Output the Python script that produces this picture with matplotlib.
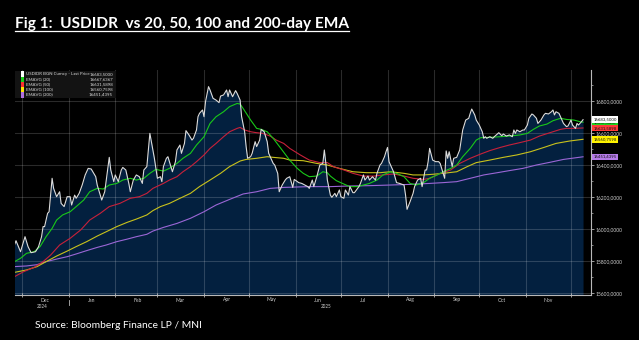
import matplotlib
matplotlib.use("Agg")
import matplotlib.pyplot as plt
import matplotlib.dates as mdates
import matplotlib.transforms as mtransforms
from matplotlib.lines import Line2D
from matplotlib.patches import Rectangle
from matplotlib.ticker import MultipleLocator, FuncFormatter
import pandas as pd

plt.rcParams['font.family'] = ['Lato', 'DejaVu Sans']

# ---------------- data ----------------
title = "Fig 1:  USDIDR  vs 20, 50, 100 and 200-day EMA"
source = "Source: Bloomberg Finance LP / MNI"
series_labels = ["USDIDR BGN Curncy - Last Price", "EMAVG (20)", "EMAVG (50)",
                 "EMAVG (100)", "EMAVG (200)"]
month_labels = ["Dec", "Jan", "Feb", "Mar", "Apr", "May", "Jun", "Jul", "Aug", "Sep", "Oct", "Nov"]
year_labels = ["2024", "2025"]

price_dates = [
    "2024-11-26", "2024-11-27", "2024-11-30", "2024-12-03", "2024-12-05", "2024-12-07", "2024-12-10",
    "2024-12-12", "2024-12-14", "2024-12-15", "2024-12-16", "2024-12-18", "2024-12-19", "2024-12-21",
    "2024-12-22", "2024-12-24", "2024-12-26", "2024-12-27", "2024-12-29", "2024-12-31",
    "2025-01-02", "2025-01-03", "2025-01-05", "2025-01-06", "2025-01-08", "2025-01-10", "2025-01-12",
    "2025-01-14", "2025-01-16", "2025-01-19", "2025-01-20", "2025-01-21", "2025-01-23", "2025-01-25",
    "2025-01-26", "2025-01-28", "2025-01-29", "2025-01-31",
    "2025-02-01", "2025-02-03", "2025-02-05", "2025-02-06", "2025-02-08", "2025-02-10", "2025-02-11",
    "2025-02-13", "2025-02-15", "2025-02-17", "2025-02-19", "2025-02-20", "2025-02-22", "2025-02-23",
    "2025-02-24", "2025-02-26", "2025-02-27",
    "2025-03-01", "2025-03-03", "2025-03-04", "2025-03-05", "2025-03-07", "2025-03-08", "2025-03-10",
    "2025-03-11", "2025-03-13", "2025-03-14", "2025-03-16", "2025-03-17", "2025-03-19", "2025-03-20",
    "2025-03-22", "2025-03-24", "2025-03-25", "2025-03-27", "2025-03-28", "2025-03-29", "2025-03-31",
    "2025-04-01", "2025-04-02", "2025-04-04", "2025-04-05", "2025-04-07", "2025-04-09", "2025-04-11",
    "2025-04-12", "2025-04-14", "2025-04-16", "2025-04-17", "2025-04-18", "2025-04-20", "2025-04-22",
    "2025-04-23", "2025-04-25", "2025-04-26", "2025-04-28", "2025-04-29", "2025-04-30",
    "2025-05-02", "2025-05-03", "2025-05-05", "2025-05-06", "2025-05-08", "2025-05-09", "2025-05-11",
    "2025-05-13", "2025-05-14", "2025-05-17", "2025-05-18", "2025-05-20", "2025-05-21", "2025-05-23",
    "2025-05-25", "2025-05-26", "2025-05-28", "2025-05-30", "2025-05-31",
    "2025-06-03", "2025-06-05", "2025-06-07", "2025-06-09", "2025-06-10", "2025-06-12", "2025-06-13",
    "2025-06-15", "2025-06-17", "2025-06-19", "2025-06-20", "2025-06-21", "2025-06-22", "2025-06-24",
    "2025-06-25", "2025-06-27", "2025-06-28", "2025-06-30",
    "2025-07-01", "2025-07-03", "2025-07-04", "2025-07-06", "2025-07-07", "2025-07-09", "2025-07-10",
    "2025-07-13", "2025-07-14", "2025-07-16", "2025-07-17", "2025-07-19", "2025-07-20", "2025-07-22",
    "2025-07-24", "2025-07-25", "2025-07-27", "2025-07-28", "2025-07-30", "2025-07-31",
    "2025-08-01", "2025-08-02", "2025-08-04", "2025-08-05", "2025-08-07", "2025-08-09", "2025-08-12",
    "2025-08-13", "2025-08-14", "2025-08-16", "2025-08-18", "2025-08-19", "2025-08-21", "2025-08-23",
    "2025-08-24", "2025-08-26", "2025-08-27", "2025-08-28", "2025-08-29", "2025-08-31",
    "2025-09-02", "2025-09-04", "2025-09-05", "2025-09-07", "2025-09-08", "2025-09-09", "2025-09-10",
    "2025-09-11", "2025-09-13", "2025-09-14", "2025-09-16", "2025-09-18", "2025-09-19", "2025-09-20",
    "2025-09-22", "2025-09-24", "2025-09-25", "2025-09-26", "2025-09-28", "2025-09-29",
    "2025-10-01", "2025-10-03", "2025-10-04", "2025-10-05", "2025-10-06", "2025-10-08", "2025-10-10",
    "2025-10-11", "2025-10-13", "2025-10-14", "2025-10-16", "2025-10-17", "2025-10-19", "2025-10-21",
    "2025-10-23", "2025-10-24", "2025-10-25", "2025-10-26", "2025-10-28", "2025-10-30", "2025-10-31",
    "2025-11-02", "2025-11-03", "2025-11-05", "2025-11-06", "2025-11-08", "2025-11-09", "2025-11-11",
    "2025-11-13", "2025-11-14", "2025-11-16", "2025-11-18", "2025-11-19", "2025-11-20", "2025-11-21",
    "2025-11-23", "2025-11-25", "2025-11-26", "2025-11-28", "2025-11-29",
    "2025-12-01", "2025-12-02", "2025-12-04", "2025-12-05", "2025-12-06", "2025-12-08", "2025-12-09",
]
price_values = [
    15900, 15927, 15858, 15952, 15890, 15852, 15858,
    15890, 15952, 16015, 16015, 16098, 16108, 16317,
    16254, 16202, 16233, 16160, 16140, 16202,
    16202, 16150, 16212, 16192, 16223, 16275, 16338,
    16379, 16375, 16327, 16275, 16244, 16181, 16233,
    16306, 16448, 16369, 16296,
    16338, 16296, 16369, 16385, 16369, 16285, 16233,
    16306, 16338, 16327, 16285, 16369, 16390, 16494,
    16598, 16494, 16442,
    16317, 16327, 16296, 16390, 16442, 16452, 16390,
    16358, 16421, 16494, 16525, 16473, 16535, 16615,
    16588, 16556, 16567, 16619, 16702, 16723, 16744,
    16702, 16796, 16890, 16869, 16817, 16806, 16790,
    16831, 16838, 16869, 16827, 16869, 16827, 16865,
    16848, 16806, 16702, 16608, 16515, 16442,
    16452, 16473, 16546, 16515, 16556, 16623, 16608,
    16546, 16473, 16410, 16400, 16348, 16233, 16275,
    16306, 16317, 16327, 16260, 16310,
    16290, 16285, 16275, 16265, 16254, 16306, 16265,
    16327, 16400, 16410, 16494, 16410, 16306, 16212,
    16198, 16223, 16202, 16244,
    16202, 16192, 16244, 16212, 16265, 16227, 16227,
    16265, 16285, 16338, 16306, 16331, 16306, 16327,
    16306, 16348, 16400, 16410, 16452, 16483,
    16510, 16421, 16379, 16358, 16290, 16285, 16275,
    16212, 16123, 16171, 16223, 16265, 16306, 16317,
    16265, 16369, 16369, 16421, 16504, 16431,
    16421, 16421, 16410, 16348, 16317, 16488, 16442,
    16483, 16390, 16442, 16448, 16494, 16556, 16619,
    16681, 16692, 16723, 16750, 16713, 16681,
    16650, 16608, 16567, 16577, 16567, 16577, 16567,
    16577, 16594, 16602, 16583, 16594, 16581, 16588,
    16577, 16619, 16598, 16619, 16608, 16619, 16619,
    16650, 16692, 16719, 16713, 16692, 16660, 16681,
    16713, 16723, 16719, 16733, 16744, 16713, 16733,
    16723, 16681, 16660, 16640, 16644,
    16681, 16650, 16629, 16660, 16650, 16671, 16683.5,
]

ema20_dates = [
    "2024-11-26", "2024-11-30", "2024-12-04", "2024-12-09", "2024-12-13", "2024-12-17", "2024-12-21",
    "2024-12-24", "2024-12-28", "2025-01-02", "2025-01-06", "2025-01-11", "2025-01-15", "2025-01-20",
    "2025-01-24", "2025-01-28", "2025-02-02", "2025-02-06", "2025-02-11", "2025-02-15", "2025-02-20",
    "2025-02-24", "2025-02-28", "2025-03-05", "2025-03-09", "2025-03-14", "2025-03-18", "2025-03-23",
    "2025-03-27", "2025-04-01", "2025-04-05", "2025-04-09", "2025-04-14", "2025-04-18", "2025-04-23",
    "2025-04-25", "2025-04-27", "2025-05-02", "2025-05-06", "2025-05-09", "2025-05-13", "2025-05-17",
    "2025-05-22", "2025-05-28", "2025-06-02", "2025-06-06", "2025-06-10", "2025-06-15", "2025-06-19",
    "2025-06-22", "2025-06-24", "2025-06-28", "2025-07-03", "2025-07-07", "2025-07-12", "2025-07-16",
    "2025-07-20", "2025-07-25", "2025-07-29", "2025-08-03", "2025-08-07", "2025-08-12", "2025-08-16",
    "2025-08-20", "2025-08-25", "2025-08-29", "2025-09-03", "2025-09-07", "2025-09-12", "2025-09-16",
    "2025-09-20", "2025-09-25", "2025-09-29", "2025-10-02", "2025-10-08", "2025-10-15", "2025-10-21",
    "2025-10-28", "2025-11-02", "2025-11-06", "2025-11-10", "2025-11-15", "2025-11-19", "2025-11-24",
    "2025-11-28", "2025-12-03", "2025-12-07", "2025-12-09",
]
ema20_values = [
    15796, 15817, 15848, 15858, 15890, 15952, 16004,
    16056, 16088, 16108, 16140, 16181, 16233, 16254,
    16250, 16275, 16285, 16306, 16317, 16306, 16317,
    16348, 16373, 16362, 16379, 16410, 16442, 16473,
    16525, 16577, 16660, 16702, 16733, 16765, 16785,
    16781, 16754, 16681, 16629, 16623, 16608, 16567,
    16505, 16430, 16379, 16348, 16327, 16331, 16358,
    16352, 16331, 16302, 16281, 16265, 16265, 16275,
    16285, 16306, 16338, 16358, 16348, 16327, 16285,
    16275, 16290, 16317, 16338, 16358, 16379, 16400,
    16452, 16504, 16556, 16571, 16573, 16577, 16581,
    16588, 16598, 16623, 16644, 16656, 16677, 16692,
    16685, 16681, 16671, 16667.6367,
]

ema50_dates = [
    "2024-11-26", "2024-12-02", "2024-12-09", "2024-12-15", "2024-12-20", "2024-12-26", "2025-01-02",
    "2025-01-09", "2025-01-15", "2025-01-22", "2025-01-28", "2025-02-04", "2025-02-11", "2025-02-17",
    "2025-02-22", "2025-02-26", "2025-03-05", "2025-03-09", "2025-03-14", "2025-03-18", "2025-03-23",
    "2025-03-27", "2025-04-01", "2025-04-05", "2025-04-09", "2025-04-14", "2025-04-18", "2025-04-23",
    "2025-04-25", "2025-04-28", "2025-05-02", "2025-05-06", "2025-05-10", "2025-05-15", "2025-05-19",
    "2025-05-24", "2025-05-28", "2025-06-04", "2025-06-10", "2025-06-17", "2025-06-22", "2025-06-26",
    "2025-07-03", "2025-07-09", "2025-07-16", "2025-07-23", "2025-07-29", "2025-08-05", "2025-08-12",
    "2025-08-18", "2025-08-25", "2025-08-29", "2025-09-05", "2025-09-12", "2025-09-18", "2025-09-25",
    "2025-10-02", "2025-10-08", "2025-10-15", "2025-10-21", "2025-10-28", "2025-11-04", "2025-11-10",
    "2025-11-17", "2025-11-24", "2025-11-28", "2025-12-03", "2025-12-09",
]
ema50_values = [
    15702, 15733, 15760, 15796, 15837, 15900, 15942,
    15994, 16056, 16098, 16140, 16160, 16192, 16202,
    16223, 16254, 16285, 16306, 16327, 16358, 16390,
    16421, 16463, 16504, 16535, 16577, 16608, 16629,
    16635, 16619, 16608, 16602, 16598, 16581, 16556,
    16535, 16504, 16463, 16431, 16415, 16415, 16390,
    16369, 16348, 16331, 16331, 16338, 16344, 16331,
    16317, 16310, 16317, 16348, 16369, 16410, 16442,
    16469, 16490, 16510, 16525, 16540, 16556, 16581,
    16602, 16623, 16629, 16629, 16631.5898,
]

ema100_dates = [
    "2024-11-26", "2024-12-04", "2024-12-11", "2024-12-17", "2024-12-24", "2024-12-31", "2025-01-06",
    "2025-01-13", "2025-01-20", "2025-01-26", "2025-02-02", "2025-02-09", "2025-02-15", "2025-02-22",
    "2025-02-26", "2025-03-03", "2025-03-09", "2025-03-16", "2025-03-23", "2025-03-29", "2025-04-05",
    "2025-04-12", "2025-04-18", "2025-04-25", "2025-04-29", "2025-05-06", "2025-05-13", "2025-05-17",
    "2025-05-24", "2025-05-28", "2025-06-06", "2025-06-15", "2025-06-22", "2025-06-30", "2025-07-09",
    "2025-07-18", "2025-07-27", "2025-08-03", "2025-08-12", "2025-08-18", "2025-08-25", "2025-08-31",
    "2025-09-07", "2025-09-16", "2025-09-23", "2025-09-29", "2025-10-08", "2025-10-17", "2025-10-26",
    "2025-11-04", "2025-11-13", "2025-11-21", "2025-11-30", "2025-12-09",
]
ema100_values = [
    15729, 15744, 15765, 15796, 15831, 15862, 15890,
    15921, 15956, 15983, 16015, 16042, 16062, 16088,
    16115, 16140, 16160, 16192, 16223, 16265, 16306,
    16348, 16390, 16425, 16435, 16442, 16452, 16448,
    16442, 16431, 16427, 16410, 16400, 16379, 16358,
    16352, 16352, 16358, 16348, 16338, 16338, 16342,
    16348, 16358, 16390, 16415, 16431, 16448, 16463,
    16483, 16510, 16535, 16550, 16560.7598,
]

ema200_dates = [
    "2024-11-26", "2024-12-04", "2024-12-11", "2024-12-17", "2024-12-24", "2024-12-31", "2025-01-06",
    "2025-01-13", "2025-01-20", "2025-01-26", "2025-02-02", "2025-02-09", "2025-02-15", "2025-02-22",
    "2025-02-26", "2025-03-05", "2025-03-14", "2025-03-23", "2025-04-01", "2025-04-09", "2025-04-18",
    "2025-04-27", "2025-05-06", "2025-05-15", "2025-05-24", "2025-06-10", "2025-06-24", "2025-07-07",
    "2025-07-20", "2025-08-03", "2025-08-16", "2025-08-29", "2025-09-07", "2025-09-16", "2025-09-25",
    "2025-10-04", "2025-10-13", "2025-10-21", "2025-10-30", "2025-11-08", "2025-11-17", "2025-11-26",
    "2025-12-09",
]
ema200_values = [
    15765, 15769, 15777, 15796, 15812, 15827, 15844,
    15865, 15885, 15900, 15921, 15937, 15952, 15967,
    15987, 16010, 16035, 16067, 16108, 16150, 16185,
    16219, 16233, 16254, 16260, 16265, 16265, 16269,
    16271, 16275, 16279, 16285, 16290, 16296, 16317,
    16338, 16352, 16365, 16379, 16400, 16417, 16435,
    16451.4395,
]

# ---------------- styles ----------------
price_color = "#dcdcdc"
fill_color = "#03203f"
line_colors = ["#19c819", "#c8203a", "#c9c21c", "#9b66d6"]
tag_colors = ["#ffffff", "#1fd21f", "#ff3a3a", "#fff200", "#b57be8"]
square_colors = ["#ffffff", "#19d019", "#ff3030", "#ffe600", "#b070e0"]
label_gray = "#cfcfcf"

W, H = 639, 340
fig = plt.figure(figsize=(W / 100, H / 100), dpi=100, facecolor="black")
L, R, T, B = 15, 591, 70, 295
ax = fig.add_axes([L / W, 1 - B / H, (R - L) / W, (B - T) / H])
ax.set_facecolor("black")

ymin, ymax = 15587.5, 16994
pdates = pd.to_datetime(price_dates)
ax.fill_between(pdates, price_values, ymin, color=fill_color, lw=0, zorder=1)

series = [(ema200_dates, ema200_values, line_colors[3]),
          (ema100_dates, ema100_values, line_colors[2]),
          (ema50_dates, ema50_values, line_colors[1]),
          (ema20_dates, ema20_values, line_colors[0])]
for d, v, c in series:
    ax.plot(pd.to_datetime(d), v, color=c, lw=0.8, zorder=3)
ax.plot(pdates, price_values, color=price_color, lw=0.8, zorder=4)

ax.set_ylim(ymin, ymax)
ax.set_xlim(pd.Timestamp("2024-11-26 08:00"), pd.Timestamp("2025-12-14 07:00"))

# grid
ax.set_axisbelow("line")
ax.xaxis.set_major_locator(mdates.MonthLocator())
ax.xaxis.set_minor_locator(mdates.MonthLocator(bymonthday=16))
ax.xaxis.set_major_formatter(plt.NullFormatter())
ax.xaxis.set_minor_formatter(mdates.DateFormatter("%b"))
ax.grid(True, which="major", axis="both", color="white", alpha=0.17, lw=0.8)

ax.yaxis.tick_right()
ax.yaxis.set_major_locator(MultipleLocator(200))
ax.yaxis.set_minor_locator(MultipleLocator(100))
ax.yaxis.set_major_formatter(FuncFormatter(lambda v, p: f"{v:.4f}".replace(".", ",")))

for s in ["left", "top"]:
    ax.spines[s].set_visible(False)
for s in ["bottom", "right"]:
    ax.spines[s].set_color("#b8b8b8")
    ax.spines[s].set_linewidth(0.8)

ax.tick_params(axis="x", which="major", direction="inout", length=3, color="#b8b8b8", width=0.6)
ax.tick_params(axis="x", which="minor", length=0, labelsize=3.6, labelcolor=label_gray, pad=1.8)
ax.tick_params(axis="y", which="major", direction="out", length=2, color="#b8b8b8", width=0.6,
               labelsize=3.6, labelcolor=label_gray, pad=1.5)
ax.tick_params(axis="y", which="minor", direction="out", length=1.5, color="#b8b8b8", width=0.5)

# year labels & separator
bt = mtransforms.blended_transform_factory(ax.transData, ax.transAxes)
x0, x1 = ax.get_xlim()
ysep = mdates.date2num(pd.Timestamp("2025-01-01"))
ax.text((x0 + ysep) / 2, -0.038, year_labels[0], transform=bt, ha="center", va="top",
        fontsize=3.3, color=label_gray)
ax.text((ysep + mdates.date2num(pdates[-1])) / 2, -0.038, year_labels[1], transform=bt,
        ha="center", va="top", fontsize=3.3, color=label_gray)
ax.add_line(Line2D([ysep, ysep], [-0.02, -0.045], transform=bt, color="#b8b8b8", lw=0.6,
                   clip_on=False))

# right-side value tags
yt = mtransforms.blended_transform_factory(ax.transAxes, ax.transData)
last_vals = [price_values[-1], ema20_values[-1], ema50_values[-1], ema100_values[-1], ema200_values[-1]]
for i in [4, 3, 2, 1, 0]:
    ax.text(1.004, last_vals[i], f"{last_vals[i]:.4f}".replace(".", ","), transform=yt,
            ha="left", va="center", fontsize=3.1, color="#111111", zorder=10 + (5 - i),
            bbox=dict(boxstyle="square,pad=0.28", fc=tag_colors[i], ec="none"), clip_on=False)

# legend box
lg_x0, lg_x1 = 0.0, (116 - L) / (R - L)
lg_top, lg_bot = (B - 71) / (B - T), (B - 98) / (B - T)
ax.add_patch(Rectangle((lg_x0, lg_bot), lg_x1 - lg_x0, lg_top - lg_bot, transform=ax.transAxes,
                       fc="#131313", ec="none", zorder=20))
for i, lab in enumerate(series_labels):
    ypx = 74 + i * 5.2
    yf = (B - ypx) / (B - T)
    ax.add_patch(Rectangle(((20.5 - L) / (R - L), yf - 0.012), 3.2 / (R - L), 0.024,
                           transform=ax.transAxes, fc=square_colors[i], ec="none", zorder=21))
    ax.text((26 - L) / (R - L), yf, lab, transform=ax.transAxes, fontsize=3.2, color="#d8d8d8",
            va="center", ha="left", zorder=22)
    ax.text((113 - L) / (R - L), yf, f"{last_vals[i]:.4f}".replace(".", ","), transform=ax.transAxes,
            fontsize=3.2, color="#d8d8d8", va="center", ha="right", zorder=22)

# title with underline
t = fig.text(15 / W, 1 - 28 / H, title, fontsize=11.1, fontweight="bold", color="white",
             ha="left", va="baseline")
fig.text(35 / W, 1 - 326 / H, source, fontsize=7.4, color="white", ha="left", va="center")

fig.canvas.draw()
bb = t.get_window_extent(fig.canvas.get_renderer())
uy = (H - 31) / H
fig.add_artist(Line2D([bb.x0 / W, bb.x1 / W], [uy, uy], transform=fig.transFigure,
                      color="white", lw=0.9))

fig.savefig("out.png", dpi=100, facecolor="black")
